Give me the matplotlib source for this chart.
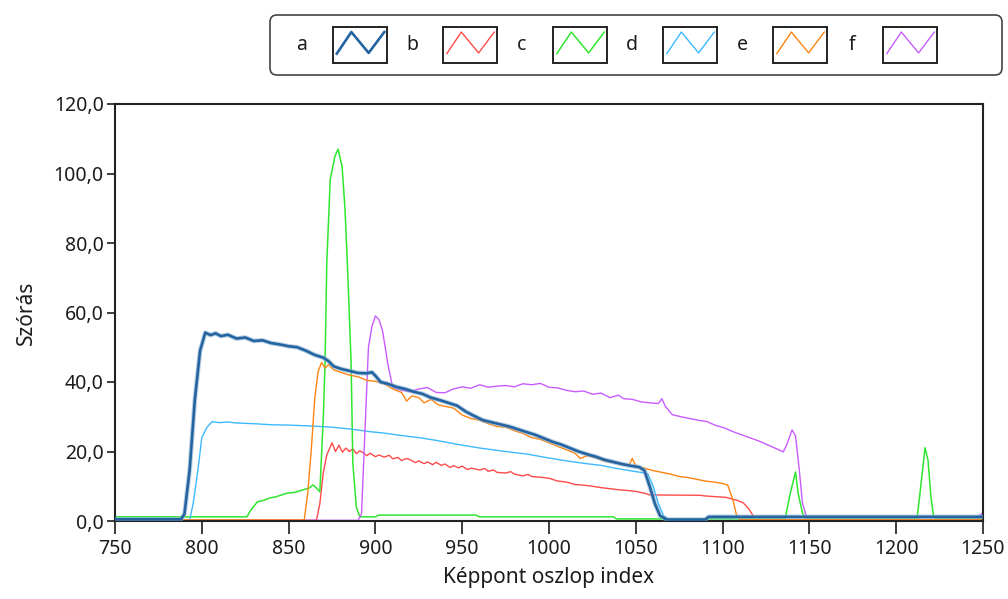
import matplotlib
matplotlib.use("Agg")
import matplotlib.pyplot as plt
from matplotlib.patches import Rectangle, FancyBboxPatch
from matplotlib.ticker import FuncFormatter, MultipleLocator

plt.rcParams['font.family'] = ['Noto Sans', 'DejaVu Sans']

# column index / standard deviation profiles
a_x = [750, 788, 790, 793, 796, 799, 802, 805, 808, 811, 815, 820, 825, 830, 835, 840,
       845, 850, 855, 860, 865, 870, 873, 876, 880, 885, 890, 895, 898, 900, 903, 907,
       912, 917, 922, 927, 932, 937, 942, 947, 952, 957, 962, 967, 972, 977, 982, 987,
       992, 997, 1002, 1007, 1012, 1017, 1022, 1027, 1032, 1037, 1042, 1047, 1052, 1055,
       1058, 1061, 1064, 1068, 1090, 1092, 1250]
a_y = [0.5, 0.5, 2, 14.7, 35, 49, 54.2, 53.5, 54, 53.2, 53.6, 52.5, 52.8, 51.8, 52, 51.2,
       50.8, 50.3, 50, 49, 47.8, 47, 46, 44.5, 43.8, 43.2, 42.6, 42.5, 42.8, 41.8, 40, 39.5,
       38.6, 38, 37.2, 36.6, 35.5, 34.8, 34, 33.2, 31.5, 30.2, 29, 28.4, 27.8, 27.2, 26.4, 25.6,
       24.8, 23.8, 22.8, 22, 21, 20, 19.2, 18.5, 17.6, 17, 16.4, 15.9, 15.5, 14.5,
       10, 5, 1.5, 0.4, 0.4, 1.2, 1.2]

b_x = [750, 866, 868, 870, 872, 875, 877, 879, 881, 883, 885, 887, 889, 891, 893, 895,
       897, 900, 902, 905, 908, 910, 913, 915, 918, 920, 923, 925, 928, 930, 933, 935,
       938, 940, 943, 945, 948, 950, 953, 955, 960, 963, 965, 968, 970, 975, 978, 980,
       985, 988, 990, 995, 1000, 1005, 1010, 1015, 1020, 1025, 1030, 1035, 1040, 1045,
       1050, 1055, 1058, 1087, 1090, 1102, 1108, 1112, 1115, 1117, 1119, 1250]
b_y = [0.2, 0.2, 5, 14, 19, 22.5, 20, 21.8, 19.8, 21, 20, 20.8, 19.4, 20.2, 19.6, 18.8,
       19.5, 18.5, 19, 18.4, 18.9, 17.9, 18.3, 17.4, 18, 17.6, 16.8, 17.3, 16.5, 17, 16.2, 16.9,
       16, 16.4, 15.4, 15.9, 15.3, 15.8, 14.8, 15.2, 14.7, 15.1, 14.3, 14.7, 14, 13.8, 14.2, 13.5,
       13, 13.4, 12.8, 12.6, 12.3, 11.5, 11.2, 10.5, 10.3, 10, 9.6, 9.3, 9, 8.8,
       8.5, 8, 7.5, 7.4, 7.2, 6.8, 6, 5.2, 3.5, 2, 0.3, 0.3]

c_x = [750, 826, 828, 832, 836, 839, 843, 849, 853, 858, 862, 864, 866, 868, 870, 871,
       872, 874, 876.7, 878.5, 880.8, 882.5, 884, 886, 887, 889, 891, 900, 902, 958, 960,
       1037, 1039, 1136, 1139, 1142, 1143.5, 1146, 1148, 1212, 1213.7, 1216.6, 1218.3,
       1220, 1221.5, 1223, 1250]
c_y = [1.2, 1.2, 3, 5.5, 6, 6.6, 7, 8, 8.2, 8.9, 9.5, 10.4, 9.5, 8.4, 30, 45.6,
       74.4, 98.4, 105, 107, 102, 89.7, 72.4, 45.6, 16.7, 4, 1.2, 1.2, 1.7, 1.7, 1.2,
       1.2, 0.6, 0.6, 8, 14.1, 8, 2.3, 0.6, 0.6, 8, 21.1, 17.6,
       7, 1.4, 0.6, 0.6]

d_x = [750, 793, 795, 797, 798, 800, 803, 806, 810, 815, 820, 830, 840, 850, 860, 868,
       875, 885, 897, 905, 915, 925, 935, 948, 960, 975, 988, 999, 1010, 1020, 1030, 1037,
       1045, 1054, 1057, 1060, 1063, 1066, 1069, 1090, 1092, 1250]
d_y = [0.3, 0.3, 5, 12, 15.6, 24, 27, 28.6, 28.3, 28.5, 28.2, 28, 27.7, 27.6, 27.4, 27.2,
       27, 26.5, 25.7, 25.3, 24.6, 24, 23.2, 22, 21, 20, 19.2, 18.2, 17.3, 16.6, 16, 15.3,
       14.6, 13.9, 13.5, 10, 5, 1.5, 0.4, 0.4, 1.0, 1.0]

e_x = [750, 859, 861, 863, 865, 867, 869, 871, 873, 876, 880, 885, 890, 895, 900, 905,
       910, 915, 918, 921, 925, 928, 932, 936, 940, 945, 950, 955, 960, 965, 970, 975,
       980, 985, 990, 995, 1000, 1005, 1010, 1015, 1018, 1022, 1027, 1032, 1037, 1042,
       1046, 1048, 1050, 1055, 1060, 1065, 1070, 1075, 1080, 1085, 1090, 1095, 1100,
       1103, 1106, 1108, 1110, 1250]
e_y = [0.3, 0.3, 8, 20, 35, 43, 45.6, 44, 45, 43.5, 42.8, 42, 41.5, 40.5, 40.2, 39.5,
       38, 37, 34.5, 36, 35.5, 34, 35, 33.5, 33, 32.5, 30.5, 29.5, 29, 28, 27.2, 27,
       26, 25.2, 24, 23.5, 22.5, 21.5, 20.5, 19.5, 18, 18.8, 18.2, 17.2, 16.8, 16.2,
       16, 18, 15.8, 15.2, 14.5, 14, 13.5, 12.8, 12.5, 12, 11.5, 11.2, 10.8,
       10.3, 6, 1.7, 0.4, 0.4]

f_x = [750, 890, 892, 894, 896, 898, 900, 902, 904, 906, 907, 909, 910, 915, 920, 925,
       930, 935, 940, 945, 950, 955, 960, 965, 970, 975, 980, 985, 990, 995, 1000, 1005,
       1010, 1015, 1020, 1025, 1030, 1035, 1040, 1043, 1048, 1053, 1058, 1063, 1065, 1067,
       1071, 1076, 1081, 1086, 1091, 1096, 1101, 1106, 1111, 1116, 1121, 1126, 1131, 1135,
       1137, 1140, 1142, 1144, 1146, 1148, 1150, 1245, 1248, 1250]
f_y = [0.2, 0.2, 2, 26, 50, 56, 59, 58, 55, 49, 45.6, 40.7, 38.4, 37.6, 37.2, 38,
       38.4, 37, 36.9, 38, 38.6, 38.2, 39.2, 38.5, 38.8, 39, 38.6, 39.5, 39.2, 39.6, 38.5, 38.3,
       37.6, 37.2, 37.4, 36.5, 36.8, 35.5, 36.2, 35.2, 35, 34.3, 34, 33.8, 35.2, 33,
       30.6, 30, 29.5, 29, 28.6, 27.5, 26.8, 25.7, 24.8, 23.9, 23, 21.9, 20.8, 19.9,
       22, 26.2, 24.5, 15.6, 5.2, 1.7, 0.3, 0.3, 1.5, 2.5]

names = ['a', 'b', 'c', 'd', 'e', 'f']
colors = ['#2464a0', '#ff4a4a', '#2ee62e', '#3db9ff', '#ff8410', '#c85cff']
series = [(a_x, a_y), (b_x, b_y), (c_x, c_y), (d_x, d_y), (e_x, e_y), (f_x, f_y)]
widths = [1.9, 1.0, 1.1, 1.0, 1.0, 1.0]

fig = plt.figure(figsize=(10.08, 5.99), dpi=100)
ax = fig.add_axes([115 / 1008, 78 / 599, 868 / 1008, 417 / 599])

order = [1, 2, 3, 5, 4, 0]
for i in order:
    xs, ys = series[i]
    if i == 0:
        # soft halo under the thick trace
        ax.plot(xs, ys, color='#8fb2d4', lw=3.4, alpha=0.6, zorder=3)
    ax.plot(xs, ys, color=colors[i], lw=widths[i], zorder=2 + (i == 0) * 2)

ax.set_xlim(750, 1250)
ax.set_ylim(0, 120)
ax.xaxis.set_major_locator(MultipleLocator(50))
ax.yaxis.set_major_locator(MultipleLocator(20))
ax.yaxis.set_major_formatter(FuncFormatter(lambda v, p: f'{v:.1f}'.replace('.', ',')))

txt = '#1c1c1c'
ax.tick_params(axis='y', length=6, width=1.2, pad=2, labelsize=14, colors=txt)
ax.tick_params(axis='x', length=9, width=1.2, pad=4, labelsize=14, colors=txt)
for s in ax.spines.values():
    s.set_linewidth(1.5)
    s.set_color('#222222')

ax.set_xlabel('Képpont oszlop index', fontsize=15, color=txt, labelpad=6)
ax.set_ylabel('Szórás', fontsize=15, color=txt, labelpad=12)

# legend drawn in pixel units on its own axes
lax = fig.add_axes([0, 0, 1, 1], facecolor='none')
lax.set_xlim(0, 1008)
lax.set_ylim(599, 0)
lax.axis('off')
lax.add_patch(FancyBboxPatch((270, 15), 732, 60, boxstyle='round,pad=0,rounding_size=7',
                             fc='white', ec='#444444', lw=1.2))
zig = [(0.07, 0.74), (0.34, 0.14), (0.66, 0.72), (0.95, 0.14)]
for i, name in enumerate(names):
    x0 = 333 + 110 * i
    lax.text(x0 - 31, 45, name, fontsize=14, color=txt, ha='center', va='center')
    lax.add_patch(Rectangle((x0, 27), 54, 36, fc='white', ec='#222222', lw=1.4))
    lax.plot([x0 + 54 * u for u, v in zig], [27 + 36 * v for u, v in zig],
             color=colors[i], lw=widths[i])

fig.savefig('out.png', dpi=100)
